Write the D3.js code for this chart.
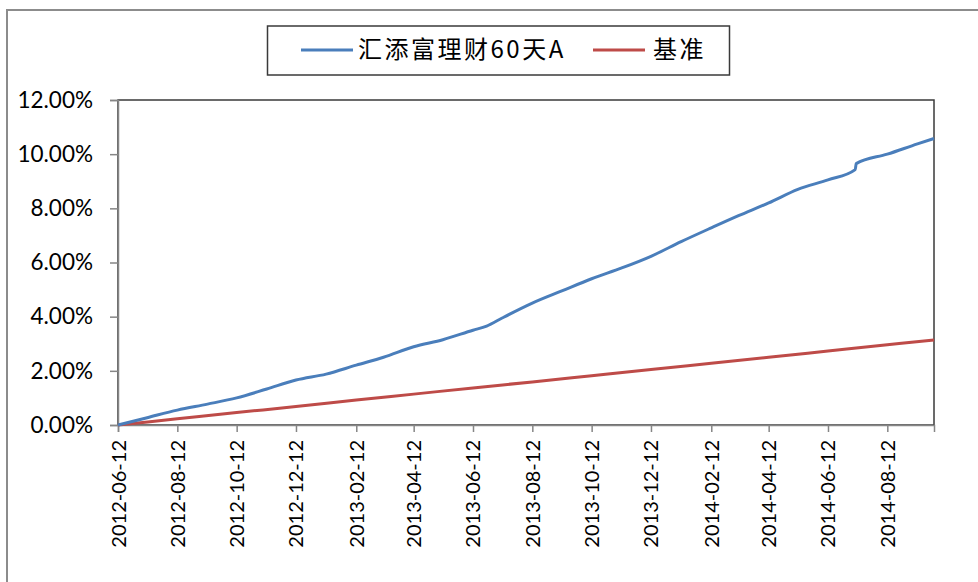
<!DOCTYPE html>
<html>
<head>
<meta charset="utf-8">
<script src="https://cdnjs.cloudflare.com/ajax/libs/d3/7.8.5/d3.min.js"></script>
<style>
  body { margin: 0; background: #fff; }
  text { font-family: Lato, "Noto Sans", sans-serif; fill: #000; }
</style>
</head>
<body>
<div id="chart"></div>
<script>
// data (cumulative return, %)
var fundDates = ["2012-06-12", "2012-07-12", "2012-08-12", "2012-09-12", "2012-10-12", "2012-11-12",
  "2012-12-12", "2013-01-12", "2013-02-12", "2013-03-12", "2013-04-12", "2013-05-12", "2013-06-12",
  "2013-06-26", "2013-07-12", "2013-08-12", "2013-09-12", "2013-10-12", "2013-11-12", "2013-12-12",
  "2014-01-12", "2014-02-12", "2014-03-12", "2014-04-12", "2014-05-12", "2014-06-12", "2014-07-10",
  "2014-07-11", "2014-08-12", "2014-09-12", "2014-09-29"];
var fundValues = [0, 0.27, 0.55, 0.77, 1.00, 1.33,
  1.66, 1.88, 2.21, 2.50, 2.89, 3.15, 3.50,
  3.65, 3.95, 4.50, 4.96, 5.40, 5.80, 6.23,
  6.77, 7.28, 7.73, 8.20, 8.70, 9.05, 9.43,
  9.65, 10.00, 10.38, 10.58];

var benchDates = ["2012-06-12", "2012-08-12", "2012-10-12", "2012-12-12", "2013-02-12", "2013-04-12",
  "2013-06-12", "2013-08-12", "2013-10-12", "2013-12-12", "2014-02-12", "2014-04-12", "2014-06-12",
  "2014-08-12", "2014-09-29"];
var benchValues = [0, 0.23, 0.46, 0.68, 0.92, 1.14, 1.37, 1.59, 1.82, 2.05, 2.28, 2.50, 2.73, 2.96, 3.14];

var tickLabels = ["2012-06-12", "2012-08-12", "2012-10-12", "2012-12-12", "2013-02-12", "2013-04-12",
  "2013-06-12", "2013-08-12", "2013-10-12", "2013-12-12", "2014-02-12", "2014-04-12", "2014-06-12",
  "2014-08-12"];
var yTicks = [0, 2, 4, 6, 8, 10, 12];
var seriesNames = ["汇添富理财60天A", "基准"];
var seriesColors = ["#4a7ebb", "#be4b48"];

var svgWidth = 978;
var svgHeight = 582;
var plot = { left: 118, right: 934, top: 100, bottom: 425 };

var parseDate = d3.timeParse("%Y-%m-%d");
var svg = d3.select("#chart")
  .append("svg")
  .attr("width", svgWidth)
  .attr("height", svgHeight);

// outer chart frame (only top and left are visible)
svg.append("path")
  .attr("d", "M7,582 L7,10 L978,10")
  .attr("fill", "none")
  .attr("stroke", "#8c8c8c")
  .attr("stroke-width", 2);

var xScale = d3.scaleTime()
  .domain([parseDate("2012-06-12"), parseDate("2014-09-29")])
  .range([plot.left, plot.right]);
var yScale = d3.scaleLinear()
  .domain([0, 12])
  .range([plot.bottom, plot.top]);

// plot area border
svg.append("rect")
  .attr("x", plot.left)
  .attr("y", plot.top)
  .attr("width", plot.right - plot.left)
  .attr("height", plot.bottom - plot.top)
  .attr("fill", "none")
  .attr("stroke", "#3a3a3a")
  .attr("stroke-width", 1.5);

// axes
var yAxis = svg.append("g")
  .attr("transform", `translate(${plot.left},0)`)
  .call(d3.axisLeft(yScale).tickValues(yTicks).tickSize(8).tickPadding(17)
    .tickFormat(d => d3.format(".2f")(d) + "%"));
var xAxis = svg.append("g")
  .attr("transform", `translate(0,${plot.bottom})`)
  .call(d3.axisBottom(xScale).tickValues(tickLabels.map(parseDate)).tickSize(7)
    .tickFormat(d3.timeFormat("%Y-%m-%d")));

[yAxis, xAxis].forEach(function(ax) {
  ax.select(".domain").attr("stroke", "#868686").attr("stroke-width", 1.5);
  ax.selectAll(".tick line").attr("stroke", "#868686").attr("stroke-width", 1.5);
});
yAxis.selectAll(".tick text")
  .style("font-size", "22.5px");
xAxis.selectAll(".tick text")
  .style("font-size", "20px")
  .attr("text-anchor", "end")
  .attr("transform", "rotate(-90)")
  .attr("x", -15)
  .attr("y", 0)
  .attr("dy", "0.35em");

// lines
var line = d3.line()
  .curve(d3.curveMonotoneX)
  .x(d => xScale(d.date))
  .y(d => yScale(d.value));
var fund = fundDates.map((d, i) => ({ date: parseDate(d), value: fundValues[i] }));
var bench = benchDates.map((d, i) => ({ date: parseDate(d), value: benchValues[i] }));

svg.append("path")
  .datum(bench)
  .attr("d", line)
  .attr("fill", "none")
  .attr("stroke", seriesColors[1])
  .attr("stroke-width", 3);
svg.append("path")
  .datum(fund)
  .attr("d", line)
  .attr("fill", "none")
  .attr("stroke", seriesColors[0])
  .attr("stroke-width", 3)
  .attr("stroke-linejoin", "round");

// legend
var legend = svg.append("g");
legend.append("rect")
  .attr("x", 267.5)
  .attr("y", 26)
  .attr("width", 462)
  .attr("height", 49)
  .attr("fill", "#fff")
  .attr("stroke", "#3a3a3a")
  .attr("stroke-width", 1.5);
var legendItems = [
  { x1: 301, x2: 353, tx: 358 },
  { x1: 593, x2: 645, tx: 653 }
];
legendItems.forEach(function(item, i) {
  legend.append("line")
    .attr("x1", item.x1)
    .attr("x2", item.x2)
    .attr("y1", 50)
    .attr("y2", 50)
    .attr("stroke", seriesColors[i])
    .attr("stroke-width", 3);
  legend.append("text")
    .attr("x", item.tx)
    .attr("y", 50)
    .attr("dy", "0.35em")
    .style("font-family", "'Noto Sans CJK SC', 'Noto Sans', sans-serif")
    .style("font-size", "24px")
    .style("letter-spacing", "2.5px")
    .text(seriesNames[i]);
});
</script>
</body>
</html>
